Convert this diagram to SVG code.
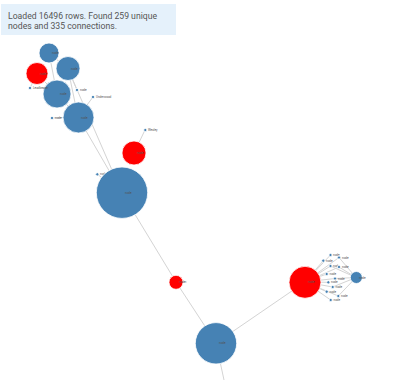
<svg xmlns="http://www.w3.org/2000/svg" width="405" height="380" viewBox="0 0 405 380">
<style>
.link{stroke:#d4d4d4;stroke-width:1;fill:none}
.b{fill:#4682b4;stroke:#fff;stroke-width:0.8}
.r{fill:#ff0000;stroke:#fff;stroke-width:0.8}
.lbl{font-family:Roboto,"Liberation Sans",sans-serif;font-size:3px;fill:#555}
.info{font-family:Roboto,"Liberation Sans",sans-serif;font-size:9.8px;fill:#555}
</style>
<rect width="405" height="380" fill="#fff"/>
<g id="connectors">
<line class="link" x1="49" y1="53" x2="68" y2="69"/>
<line class="link" x1="49" y1="53" x2="57" y2="94"/>
<line class="link" x1="37" y1="74" x2="57" y2="94"/>
<line class="link" x1="68" y1="69" x2="78" y2="117"/>
<line class="link" x1="57" y1="94" x2="78" y2="117"/>
<line class="link" x1="78" y1="117" x2="122" y2="193"/>
<line class="link" x1="68" y1="69" x2="122" y2="193"/>
<line class="link" x1="30" y1="88" x2="37" y2="74"/>
<line class="link" x1="77" y1="90" x2="68" y2="69"/>
<line class="link" x1="93" y1="97" x2="78" y2="117"/>
<line class="link" x1="52" y1="118" x2="78" y2="117"/>
<line class="link" x1="145" y1="130" x2="134" y2="153"/>
<line class="link" x1="97" y1="174" x2="122" y2="193"/>
<line class="link" x1="122" y1="193" x2="176" y2="282"/>
<line class="link" x1="176" y1="282" x2="216" y2="343"/>
<line class="link" x1="305" y1="282" x2="216" y2="343"/>
<line class="link" x1="216" y1="343" x2="224" y2="380"/>
<line class="link" x1="176" y1="282" x2="187" y2="282"/>
<g>
<line class="link" x1="305" y1="282" x2="330.5" y2="255"/>
<line class="link" x1="305" y1="282" x2="339" y2="257.5"/>
<line class="link" x1="305" y1="282" x2="323.3" y2="260.7"/>
<line class="link" x1="305" y1="282" x2="330.5" y2="266"/>
<line class="link" x1="305" y1="282" x2="339" y2="267"/>
<line class="link" x1="305" y1="282" x2="326.7" y2="274"/>
<line class="link" x1="305" y1="282" x2="335" y2="278.5"/>
<line class="link" x1="305" y1="282" x2="328.3" y2="282.3"/>
<line class="link" x1="305" y1="282" x2="332.7" y2="287"/>
<line class="link" x1="305" y1="282" x2="326.7" y2="291.7"/>
<line class="link" x1="305" y1="282" x2="338.3" y2="296"/>
<line class="link" x1="305" y1="282" x2="330.7" y2="300"/>
<line class="link" x1="356" y1="277.5" x2="339" y2="257.5"/>
<line class="link" x1="356" y1="277.5" x2="339" y2="267"/>
<line class="link" x1="356" y1="277.5" x2="335" y2="278.5"/>
<line class="link" x1="356" y1="277.5" x2="332.7" y2="287"/>
<line class="link" x1="356" y1="277.5" x2="338.3" y2="296"/>
<line class="link" x1="356" y1="277.5" x2="330.5" y2="266"/>
</g>
</g>
<g id="info">
<rect x="1" y="4" width="175" height="31" fill="#e5f1fb"/>
<text class="info" x="8" y="18.5" textLength="149" lengthAdjust="spacingAndGlyphs">Loaded 16496 rows. Found 259 unique</text>
<text class="info" x="8" y="28.5" textLength="109" lengthAdjust="spacingAndGlyphs">nodes and 335 connections.</text>
</g>
<g id="n1"><circle class="b" cx="49" cy="53" r="10"/><text class="lbl" x="52" y="54">node</text></g>
<g id="n2"><circle class="b" cx="68" cy="68.5" r="12"/><text class="lbl" x="71" y="69.5">node</text></g>
<g id="n3"><circle class="r" cx="37" cy="73.5" r="11"/><text class="lbl" x="40" y="74.5">node</text></g>
<g id="n4"><circle class="b" cx="57" cy="94" r="14"/><text class="lbl" x="60" y="95">node</text></g>
<g id="n5"><circle class="b" cx="78.5" cy="117.5" r="15.5"/><text class="lbl" x="81" y="118.5">node</text></g>
<g id="n6"><circle class="b" cx="30" cy="88" r="1.6"/><text class="lbl" x="33" y="89">Leadbeater</text></g>
<g id="n7"><circle class="b" cx="77" cy="90" r="1.6"/><text class="lbl" x="80" y="91">node</text></g>
<g id="n8"><circle class="b" cx="93" cy="97" r="1.6"/><text class="lbl" x="96" y="98">Underwood</text></g>
<g id="n9"><circle class="b" cx="52" cy="118" r="1.6"/><text class="lbl" x="55" y="119">node</text></g>
<g id="n10"><circle class="b" cx="145.3" cy="130" r="1.6"/><text class="lbl" x="148" y="131">Wesley</text></g>
<g id="n11"><circle class="r" cx="134" cy="153" r="12"/><text class="lbl" x="137" y="154">node</text></g>
<g id="n12"><circle class="b" cx="97.3" cy="174.3" r="1.6"/><text class="lbl" x="100" y="175.3">node</text></g>
<g id="n13"><circle class="b" cx="122" cy="192.7" r="25.7"/><text class="lbl" x="125" y="193.7">node</text></g>
<g id="n14"><circle class="r" cx="176" cy="282.3" r="7"/><text class="lbl" x="179" y="283.3">node</text></g>
<g id="n15"><circle class="r" cx="305" cy="282.3" r="16"/><text class="lbl" x="308" y="283.3">node</text></g>
<g id="n16"><circle class="b" cx="356.3" cy="277.5" r="6"/><text class="lbl" x="359" y="278.5">node</text></g>
<g id="n17"><circle class="b" cx="216" cy="343.3" r="20.7"/><text class="lbl" x="219" y="344.3">node</text></g>
<g id="n18"><circle class="b" cx="330.5" cy="255" r="1.6"/><text class="lbl" x="333" y="256">node</text></g>
<g id="n19"><circle class="b" cx="339" cy="257.5" r="1.6"/><text class="lbl" x="342" y="258.5">node</text></g>
<g id="n20"><circle class="b" cx="323.3" cy="260.7" r="1.6"/><text class="lbl" x="326" y="261.7">node</text></g>
<g id="n21"><circle class="b" cx="330.5" cy="266" r="1.6"/><text class="lbl" x="333" y="267">node</text></g>
<g id="n22"><circle class="b" cx="339" cy="267" r="1.6"/><text class="lbl" x="342" y="268">node</text></g>
<g id="n23"><circle class="b" cx="326.7" cy="274" r="1.6"/><text class="lbl" x="329.5" y="275">node</text></g>
<g id="n24"><circle class="b" cx="335" cy="278.5" r="1.6"/><text class="lbl" x="338" y="279.5">node</text></g>
<g id="n25"><circle class="b" cx="328.3" cy="282.3" r="1.6"/><text class="lbl" x="331" y="283.3">node</text></g>
<g id="n26"><circle class="b" cx="332.7" cy="287" r="1.6"/><text class="lbl" x="335.5" y="288">node</text></g>
<g id="n27"><circle class="b" cx="326.7" cy="291.7" r="1.6"/><text class="lbl" x="329.5" y="292.7">node</text></g>
<g id="n28"><circle class="b" cx="338.3" cy="296" r="1.6"/><text class="lbl" x="341" y="297">node</text></g>
<g id="n29"><circle class="b" cx="330.7" cy="300" r="1.6"/><text class="lbl" x="333.5" y="301">node</text></g>
</svg>
